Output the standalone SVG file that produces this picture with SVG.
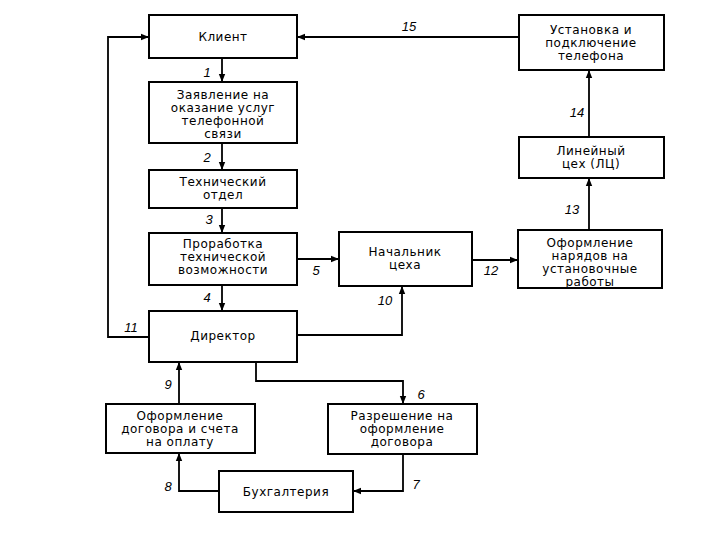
<svg xmlns="http://www.w3.org/2000/svg" width="720" height="540" viewBox="0 0 720 540">
<defs>
<marker id="ah" markerWidth="8" markerHeight="8" refX="8" refY="4" orient="auto" markerUnits="userSpaceOnUse">
<path d="M0,0.8 L8,4 L0,7.2 Z" fill="#000"/>
</marker>
<style>
.box{fill:#fff;stroke:#000;stroke-width:2}
.t{font-family:"DejaVu Sans","Liberation Sans",Arial,sans-serif;font-size:12px;letter-spacing:0.5px;text-anchor:middle;fill:#000}
.n{font-family:"Liberation Sans",Arial,sans-serif;font-size:13px;font-style:italic;text-anchor:middle;fill:#000}
.c{fill:none;stroke:#000;stroke-width:1.8;marker-end:url(#ah)}
</style>
</defs>
<rect width="720" height="540" fill="#fff"/>
<g id="connectors">
<path class="c" d="M222,58 V82"/>
<path class="c" d="M222,143 V170"/>
<path class="c" d="M222,208 V233"/>
<path class="c" d="M222,285 V311"/>
<path class="c" d="M297,259 H339"/>
<path class="c" d="M256,362 V381 H403 V404"/>
<path class="c" d="M403,454 V491 H353"/>
<path class="c" d="M219,491 H179 V453"/>
<path class="c" d="M179,404 V362"/>
<path class="c" d="M297,335 H402 V286"/>
<path class="c" d="M149,337 H108 V37 H149"/>
<path class="c" d="M472,260 H518"/>
<path class="c" d="M589,230 V178"/>
<path class="c" d="M589,137 V70"/>
<path class="c" d="M519,37 H297"/>
<text class="n" x="207" y="77">1</text>
<text class="n" x="207" y="162">2</text>
<text class="n" x="209" y="224">3</text>
<text class="n" x="207" y="302">4</text>
<text class="n" x="316" y="275">5</text>
<text class="n" x="421" y="399">6</text>
<text class="n" x="416" y="489">7</text>
<text class="n" x="168" y="491">8</text>
<text class="n" x="168" y="389">9</text>
<text class="n" x="385" y="305">10</text>
<text class="n" x="131" y="332">11</text>
<text class="n" x="491" y="275">12</text>
<text class="n" x="572" y="214">13</text>
<text class="n" x="577" y="117">14</text>
<text class="n" x="409" y="31">15</text>
</g>
<g id="client">
<rect class="box" x="149" y="15" width="148" height="43"/>
<text class="t" x="223" y="41">Клиент</text>
</g>
<g id="application">
<rect class="box" x="149" y="82" width="148" height="61"/>
<text class="t" x="223" y="99">Заявление на</text>
<text class="t" x="223" y="112">оказание услуг</text>
<text class="t" x="223" y="125">телефонной</text>
<text class="t" x="223" y="138">связи</text>
</g>
<g id="techdept">
<rect class="box" x="149" y="170" width="148" height="38"/>
<text class="t" x="223" y="186">Технический</text>
<text class="t" x="223" y="199">отдел</text>
</g>
<g id="feasibility">
<rect class="box" x="149" y="233" width="148" height="52"/>
<text class="t" x="223" y="248">Проработка</text>
<text class="t" x="223" y="261">технической</text>
<text class="t" x="223" y="274">возможности</text>
</g>
<g id="director">
<rect class="box" x="149" y="311" width="148" height="51"/>
<text class="t" x="223" y="340">Директор</text>
</g>
<g id="chief">
<rect class="box" x="339" y="232" width="133" height="54"/>
<text class="t" x="405" y="256">Начальник</text>
<text class="t" x="405" y="269">цеха</text>
</g>
<g id="orders">
<rect class="box" x="518" y="230" width="144" height="58"/>
<text class="t" x="590" y="247">Оформление</text>
<text class="t" x="590" y="260">нарядов на</text>
<text class="t" x="590" y="273">установочные</text>
<text class="t" x="590" y="286">работы</text>
</g>
<g id="linedept">
<rect class="box" x="519" y="137" width="145" height="41"/>
<text class="t" x="591" y="155">Линейный</text>
<text class="t" x="591" y="168">цех (ЛЦ)</text>
</g>
<g id="install">
<rect class="box" x="519" y="15" width="145" height="55"/>
<text class="t" x="591" y="34">Установка и</text>
<text class="t" x="591" y="47">подключение</text>
<text class="t" x="591" y="60">телефона</text>
</g>
<g id="permission">
<rect class="box" x="328" y="404" width="149" height="50"/>
<text class="t" x="402" y="420">Разрешение на</text>
<text class="t" x="402" y="433">оформление</text>
<text class="t" x="402" y="446">договора</text>
</g>
<g id="contract">
<rect class="box" x="106" y="404" width="149" height="49"/>
<text class="t" x="180" y="420">Оформление</text>
<text class="t" x="180" y="433">договора и счета</text>
<text class="t" x="180" y="446">на оплату</text>
</g>
<g id="accounting">
<rect class="box" x="219" y="471" width="134" height="41"/>
<text class="t" x="286" y="496">Бухгалтерия</text>
</g>
</svg>
